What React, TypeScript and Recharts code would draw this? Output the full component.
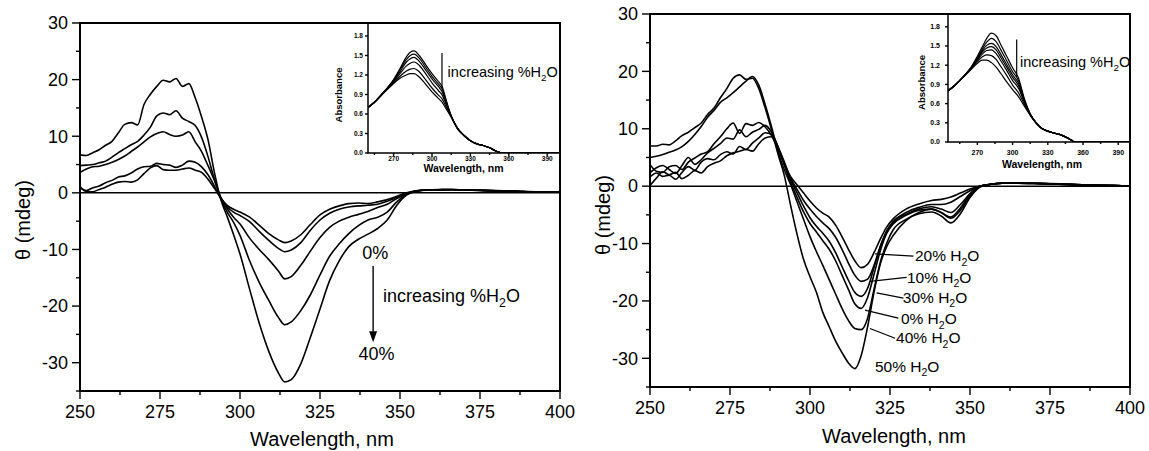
import React from "react";
import {
  LineChart,
  Line,
  XAxis,
  YAxis,
  ReferenceLine,
  ReferenceArea,
  ReferenceDot,
} from "recharts";

const FONT = '"Liberation Sans", Arial, Helvetica, sans-serif';

// ---- left panel: CD spectra, 0-40 % H2O ----
const nmLeft = [
  250, 252, 254, 256, 258, 260, 262, 264, 266, 268, 270, 272, 274, 276, 278, 280, 282, 284, 286, 288, 290, 292, 294,
  296, 298, 300, 303, 306, 309, 312, 314, 316, 319, 322, 325, 328, 331, 334, 337, 340, 343, 346, 349, 352, 355, 358,
  362, 366, 370, 375, 380, 385, 390, 395, 400,
];
const cd40 = [
  6.7, 6.6, 7.1, 7.6, 8.4, 9.1, 10.6, 12.1, 12.4, 12.0, 15.6, 17.4, 18.8, 19.9, 19.6, 20.2, 18.8, 19.3, 16.8, 13.4, 9.4,
  3.6, -1.2, -4.2, -7.4, -10.8, -17.0, -23.0, -28.0, -31.8, -33.4, -33.0, -30.2, -25.5, -20.5, -15.5, -12.0, -9.5,
  -8.2, -7.3, -6.3, -4.8, -2.2, -0.4, 0.3, 0.5, 0.6, 0.6, 0.5, 0.45, 0.35, 0.3, 0.2, 0.15, 0.1,
];
const cd30 = [
  4.8, 4.9, 5.0, 5.3, 5.6, 6.3, 7.1, 7.8, 8.5, 9.1, 10.2, 11.6, 13.6, 14.1, 13.8, 14.5, 13.2, 12.6, 11.9, 9.8, 6.4,
  2.4, -1.0, -3.4, -5.2, -7.5, -12.0, -15.8, -19.0, -22.0, -23.3, -22.8, -20.8, -18.0, -14.5, -11.2, -9.0, -7.2,
  -5.8, -4.8, -4.3, -3.4, -1.6, -0.3, 0.3, 0.5, 0.55, 0.6, 0.5, 0.45, 0.35, 0.3, 0.2, 0.15, 0.1,
];
const cd20 = [
  3.6, 4.2, 4.6, 4.7, 5.0, 5.4, 5.9, 6.5, 7.3, 8.1, 9.0, 9.9, 10.5, 10.8, 10.3, 10.0, 10.2, 10.8, 9.0, 7.3, 4.8, 2.2,
  -0.8, -2.8, -4.3, -5.5, -8.0, -10.0, -11.8, -13.8, -15.2, -14.8, -12.8, -10.3, -7.9, -6.1, -5.0, -4.3, -3.8, -3.3,
  -2.6, -2.0, -1.0, -0.2, 0.3, 0.5, 0.5, 0.55, 0.5, 0.4, 0.35, 0.3, 0.2, 0.12, 0.1,
];
const cd10 = [
  0.9, 0.4, 0.9, 1.2, 1.8, 2.2, 2.8, 3.0, 3.5, 4.2, 4.6, 4.7, 5.2, 5.0, 4.9, 4.5, 4.9, 5.6, 5.4, 4.6, 3.2, 1.2, -1.0,
  -2.5, -3.4, -4.0, -5.1, -6.8, -8.4, -9.8, -10.4, -10.1, -8.8, -6.6, -4.8, -3.6, -2.9, -2.5, -2.3, -2.2, -2.0, -1.5,
  -0.8, -0.1, 0.3, 0.45, 0.5, 0.55, 0.5, 0.45, 0.4, 0.3, 0.25, 0.15, 0.1,
];
const cd0 = [
  1.1, 0.2, 0.2, 0.6, 1.0, 1.5, 1.9, 2.0, 1.9, 2.3, 3.4, 4.4, 4.8, 4.1, 4.0, 4.0, 4.2, 4.4, 4.0, 3.6, 2.4, 0.8, -0.9,
  -2.2, -2.9, -3.4, -4.3, -5.7, -7.2, -8.3, -8.8, -8.5, -7.4, -5.6, -3.9, -2.9, -2.3, -1.9, -1.8, -1.9, -1.6, -1.2,
  -0.6, 0.0, 0.35, 0.5, 0.55, 0.6, 0.5, 0.45, 0.35, 0.3, 0.2, 0.15, 0.1,
];

// ---- right panel: CD spectra, 0-50 % H2O ----
const nmRight = [
  250, 252, 254, 256, 258, 260, 262, 264, 266, 268, 270, 272, 274, 276, 278, 280, 282, 284, 286, 288, 290, 292, 294,
  296, 298, 300, 302, 304, 306, 308, 310, 312, 314, 316, 318, 320, 322, 324, 326, 330, 334, 338, 341, 344, 347, 350,
  353, 356, 360, 365, 370, 375, 380, 385, 390, 395, 400,
];
const cdR50 = [
  7.0, 7.0, 7.3, 7.2, 7.9, 8.8, 9.4, 10.2, 11.0, 12.5, 13.6, 15.4, 17.0, 18.8, 19.4, 18.6, 18.8, 17.0, 13.6, 9.8, 5.6,
  1.8, -3.5, -8.5, -12.8, -15.8, -18.5, -22.0, -24.5, -27.0, -29.0, -30.8, -31.8, -29.5, -24.5, -18.5, -13.5, -10.5,
  -8.6, -6.0, -4.6, -4.0, -4.6, -5.6, -4.2, -1.8, -0.1, 0.3, 0.5, 0.5, 0.45, 0.4, 0.3, 0.2, 0.15, 0.1, 0.05,
];
const cdR40 = [
  5.0, 5.2, 5.5, 5.9, 6.3, 6.9, 7.8, 9.0, 10.4, 12.0, 13.2, 14.6, 15.4, 16.3, 17.3, 18.3, 19.1, 17.6, 14.2, 10.3, 6.0,
  2.8, 0.2, -2.8, -5.8, -8.8, -11.4, -13.8, -16.3, -18.8, -21.3, -23.4, -24.8, -25.0, -23.0, -18.0, -13.2, -9.9, -7.6,
  -5.8, -4.8, -4.5, -5.2, -6.4, -4.8, -2.0, -0.2, 0.3, 0.5, 0.55, 0.5, 0.4, 0.3, 0.25, 0.15, 0.1, 0.05,
];
const cdR30 = [
  1.6, 2.3, 1.7, 1.9, 1.2, 2.4, 3.4, 2.8, 4.2, 4.8, 4.6, 5.5, 6.0, 5.6, 6.9, 6.4, 7.5, 8.4, 9.3, 9.0, 6.8, 3.8, 1.0,
  -1.2, -3.5, -5.5, -7.0, -8.2, -9.6, -11.6, -14.0, -16.4, -18.5, -19.2, -17.8, -14.2, -10.6, -7.8, -6.2, -4.9, -4.0,
  -3.6, -4.0, -4.6, -3.2, -1.3, 0.0, 0.3, 0.5, 0.5, 0.45, 0.4, 0.3, 0.25, 0.15, 0.1, 0.05,
];
const cdR20 = [
  3.8, 2.6, 2.4, 3.4, 3.6, 2.9, 4.2, 4.9, 5.6, 6.0, 7.4, 8.6, 10.0, 11.0, 9.2, 10.9, 10.6, 11.1, 10.3, 8.8, 6.4, 3.8,
  1.6, 0.2, -1.2, -2.6, -3.8, -4.7, -5.4, -6.8, -8.8, -11.0, -13.0, -14.2, -13.6, -11.6, -9.2, -7.1, -5.7, -4.0, -3.1,
  -2.5, -2.3, -1.9, -1.2, -0.5, 0.0, 0.3, 0.5, 0.5, 0.45, 0.4, 0.3, 0.2, 0.15, 0.1, 0.05,
];
const cdR10 = [
  2.3, 3.2, 3.6, 2.9, 2.2, 3.6, 5.0, 3.8, 4.6, 5.8, 6.6, 7.4, 8.4, 8.2, 9.8, 8.6, 9.4, 9.9, 10.6, 9.4, 6.9, 4.2, 1.3,
  -0.6, -2.5, -4.0, -5.3, -6.4, -7.4, -8.9, -11.0, -13.4, -15.5, -16.6, -16.2, -13.8, -10.4, -7.8, -6.2, -4.6, -3.7,
  -3.2, -3.2, -2.8, -1.8, -0.8, 0.0, 0.3, 0.5, 0.55, 0.5, 0.4, 0.35, 0.25, 0.15, 0.1, 0.05,
];
const cdR0 = [
  0.1, 1.4, 2.5, 2.0, 2.4, 1.3, 1.9, 2.7, 2.3, 3.4, 4.0, 4.4, 5.3, 5.8, 6.1, 6.4, 6.1, 7.4, 8.4, 8.6, 6.6, 3.7, 0.6,
  -2.0, -4.5, -6.5, -8.0, -9.5, -11.0, -13.0, -15.5, -18.0, -20.5, -21.3, -19.4, -15.4, -11.2, -8.2, -6.6, -5.1, -4.2,
  -4.0, -4.6, -5.4, -3.8, -1.5, 0.0, 0.3, 0.5, 0.55, 0.5, 0.45, 0.35, 0.25, 0.15, 0.1, 0.05,
];

// ---- insets: absorbance ----
const nmInsetL = [
  250, 255, 260, 265, 270, 275, 280, 283, 286, 290, 295, 300, 305, 308, 311, 315, 320, 325, 330, 335, 340, 345, 350,
  355, 360, 380, 400,
];
const absL = [
  [0.7, 0.78, 0.89, 1.0, 1.13, 1.3, 1.48, 1.55, 1.57, 1.5, 1.36, 1.22, 1.1, 1.02, 0.82, 0.57, 0.38, 0.27, 0.19, 0.14, 0.115, 0.08, 0.03, 0, 0, 0, 0],
  [0.7, 0.78, 0.89, 0.995, 1.12, 1.28, 1.44, 1.5, 1.52, 1.46, 1.32, 1.18, 1.06, 0.98, 0.8, 0.57, 0.38, 0.27, 0.19, 0.14, 0.115, 0.08, 0.03, 0, 0, 0, 0],
  [0.7, 0.78, 0.88, 0.99, 1.11, 1.25, 1.4, 1.45, 1.47, 1.41, 1.28, 1.14, 1.02, 0.94, 0.78, 0.57, 0.38, 0.27, 0.19, 0.14, 0.115, 0.08, 0.03, 0, 0, 0, 0],
  [0.7, 0.78, 0.88, 0.985, 1.1, 1.22, 1.34, 1.38, 1.4, 1.35, 1.22, 1.08, 0.96, 0.89, 0.75, 0.56, 0.38, 0.27, 0.19, 0.14, 0.115, 0.08, 0.03, 0, 0, 0, 0],
  [0.7, 0.78, 0.88, 0.98, 1.08, 1.18, 1.26, 1.29, 1.3, 1.25, 1.13, 1.0, 0.89, 0.83, 0.71, 0.56, 0.37, 0.27, 0.19, 0.14, 0.115, 0.08, 0.03, 0, 0, 0, 0],
  [0.7, 0.78, 0.88, 0.975, 1.07, 1.15, 1.2, 1.22, 1.22, 1.17, 1.06, 0.94, 0.84, 0.78, 0.68, 0.55, 0.37, 0.27, 0.19, 0.14, 0.115, 0.08, 0.03, 0, 0, 0, 0],
];
const nmInsetR = [
  245, 250, 255, 260, 265, 270, 274, 278, 282, 286, 290, 295, 300, 305, 310, 315, 320, 325, 330, 335, 340, 345, 350,
  353, 360, 380, 400,
];
const absR = [
  [0.8, 0.87, 0.96, 1.06, 1.18, 1.34, 1.48, 1.62, 1.7, 1.66, 1.52, 1.34, 1.16, 1.0, 0.68, 0.44, 0.3, 0.21, 0.17, 0.14, 0.12, 0.08, 0.03, 0, 0, 0, 0],
  [0.8, 0.87, 0.96, 1.06, 1.17, 1.32, 1.45, 1.56, 1.62, 1.57, 1.44, 1.27, 1.1, 0.96, 0.66, 0.44, 0.3, 0.21, 0.17, 0.14, 0.12, 0.08, 0.03, 0, 0, 0, 0],
  [0.8, 0.87, 0.96, 1.06, 1.17, 1.3, 1.42, 1.51, 1.54, 1.49, 1.37, 1.21, 1.05, 0.92, 0.65, 0.43, 0.3, 0.21, 0.17, 0.14, 0.12, 0.08, 0.03, 0, 0, 0, 0],
  [0.8, 0.87, 0.96, 1.06, 1.16, 1.29, 1.4, 1.47, 1.49, 1.44, 1.32, 1.17, 1.01, 0.88, 0.63, 0.43, 0.3, 0.21, 0.17, 0.14, 0.12, 0.08, 0.03, 0, 0, 0, 0],
  [0.8, 0.87, 0.96, 1.05, 1.16, 1.28, 1.37, 1.43, 1.44, 1.38, 1.27, 1.12, 0.96, 0.84, 0.62, 0.43, 0.3, 0.21, 0.17, 0.14, 0.12, 0.08, 0.03, 0, 0, 0, 0],
  [0.8, 0.87, 0.96, 1.05, 1.15, 1.26, 1.33, 1.36, 1.35, 1.29, 1.18, 1.04, 0.89, 0.77, 0.59, 0.42, 0.3, 0.21, 0.17, 0.14, 0.12, 0.08, 0.03, 0, 0, 0, 0],
  [0.8, 0.87, 0.96, 1.05, 1.14, 1.23, 1.28, 1.28, 1.24, 1.17, 1.07, 0.94, 0.82, 0.71, 0.56, 0.42, 0.3, 0.21, 0.17, 0.14, 0.12, 0.08, 0.03, 0, 0, 0, 0],
];

// ---- ticks ----
const mainXTicks = [250, 262.5, 275, 287.5, 300, 312.5, 325, 337.5, 350, 362.5, 375, 387.5, 400];
const mainXLabels = [250, 275, 300, 325, 350, 375, 400];
const mainYTicks = [-35, -30, -25, -20, -15, -10, -5, 0, 5, 10, 15, 20, 25, 30];
const mainYLabels = [-30, -20, -10, 0, 10, 20, 30];
const insetXTicks = [255, 270, 285, 300, 315, 330, 345, 360, 375, 390];
const insetXLabels = [270, 300, 330, 360, 390];
const insetYTicks = [0, 0.3, 0.6, 0.9, 1.2, 1.5, 1.8];

const leftRows = nmLeft.map((nm, i) => ({ nm, c0: cd0[i], c10: cd10[i], c20: cd20[i], c30: cd30[i], c40: cd40[i] }));
const rightRows = nmRight.map((nm, i) => ({
  nm, c0: cdR0[i], c10: cdR10[i], c20: cdR20[i], c30: cdR30[i], c40: cdR40[i], c50: cdR50[i],
}));
const insetLRows = nmInsetL.map((nm, i) => {
  const r: Record<string, number> = { nm };
  absL.forEach((s, k) => (r["a" + k] = s[i]));
  return r;
});
const insetRRows = nmInsetR.map((nm, i) => {
  const r: Record<string, number> = { nm };
  absR.forEach((s, k) => (r["a" + k] = s[i]));
  return r;
});

function xTick(labels: number[], big: number, small: number, size: number, gap: number, bold = false) {
  return (p: any) => {
    const v = p.payload.value;
    const major = labels.includes(v);
    return (
      <g>
        <line x1={p.x} x2={p.x} y1={p.y} y2={p.y + (major ? big : small)} stroke="#000" strokeWidth={1.4} />
        {major && (
          <text x={p.x} y={p.y + gap} textAnchor="middle" fontSize={size} fontFamily={FONT}
            fontWeight={bold ? "bold" : "normal"} fill="#000">
            {v}
          </text>
        )}
      </g>
    );
  };
}

function yTick(labels: number[] | null, big: number, small: number, size: number, gap: number, fmt: (v: number) => string, bold = false) {
  return (p: any) => {
    const v = p.payload.value;
    const major = labels ? labels.includes(v) : true;
    return (
      <g>
        <line x1={p.x} x2={p.x - (major ? big : small)} y1={p.y} y2={p.y} stroke="#000" strokeWidth={1.4} />
        {major && (
          <text x={p.x - gap} y={p.y} dy="0.35em" textAnchor="end" fontSize={size} fontFamily={FONT}
            fontWeight={bold ? "bold" : "normal"} fill="#000">
            {fmt(v)}
          </text>
        )}
      </g>
    );
  };
}

type NoteProps = { cx?: number; cy?: number; text: string; sub?: string; tail?: string; size: number };
function Note({ cx = 0, cy = 0, text, sub, tail, size }: NoteProps) {
  return (
    <text x={cx} y={cy} fontSize={size} fontFamily={FONT} fill="#000">
      {text}
      {sub && (
        <tspan dy={size * 0.3} fontSize={size * 0.68}>
          {sub}
        </tspan>
      )}
      {tail && (
        <tspan dy={-size * 0.3} fontSize={size}>
          {tail}
        </tspan>
      )}
    </text>
  );
}

const note = (text: string, size: number, sub?: string, tail?: string) => (p: any) =>
  <Note cx={p.cx} cy={p.cy} text={text} sub={sub} tail={tail} size={size} />;

const arrowHead = (p: any) => (
  <path d={`M${p.cx - 4},${p.cy - 11} L${p.cx + 4},${p.cy - 11} L${p.cx},${p.cy} Z`} fill="#000" />
);

const curve = (key: string) => (
  <Line key={key} dataKey={key} type="monotone" stroke="#000" strokeWidth={1.6} dot={false} isAnimationActive={false} />
);

const insetCurve = (key: string) => (
  <Line key={key} dataKey={key} type="monotone" stroke="#000" strokeWidth={1.2} dot={false} isAnimationActive={false} />
);

const titleStyle = { fontFamily: FONT, fontSize: 20, fill: "#000" };
const insetTitle = { fontFamily: FONT, fontSize: 10.5, fontWeight: "bold" as const, fill: "#000" };

export default function App() {
  return (
    <div style={{ position: "absolute", left: 0, top: 0, width: 1149, height: 451, background: "#fff" }}>
      {/* left main */}
      <div style={{ position: "absolute", left: 0, top: 0 }}>
        <LineChart width={575} height={451} data={leftRows} margin={{ top: 23, right: 15, bottom: 0, left: 0 }}>
          <XAxis dataKey="nm" type="number" domain={[250, 400]} ticks={mainXTicks} interval={0} height={60}
            axisLine={false} tickLine={false} tickSize={0} tickMargin={0} allowDataOverflow
            tick={xTick(mainXLabels, 8, 4, 18, 27)} />
          <YAxis type="number" domain={[-35, 30]} ticks={mainYTicks} interval={0} width={80}
            axisLine={false} tickLine={false} tickSize={0} tickMargin={0} allowDataOverflow
            tick={yTick(mainYLabels, 8, 4, 18, 12, (v) => String(v))} />
          <ReferenceArea x1={250} x2={400} y1={-35} y2={30} fill="none" fillOpacity={0} stroke="#000" strokeWidth={2} />
          <ReferenceLine y={0} stroke="#000" strokeWidth={1.5} />
          {["c0", "c10", "c20", "c30", "c40"].map(curve)}
          <ReferenceDot x={338.2} y={-11.6} r={0} shape={note("0%", 18)} />
          <ReferenceLine segment={[{ x: 341.6, y: -12.9 }, { x: 341.6, y: -24.5 }]} stroke="#000" strokeWidth={1.4} />
          <ReferenceDot x={341.6} y={-26.4} r={0} shape={arrowHead} />
          <ReferenceDot x={344.7} y={-19.2} r={0} shape={note("increasing %H", 18, "2", "O")} />
          <ReferenceDot x={337.0} y={-29.5} r={0} shape={note("40%", 18)} />
          <text x={23} y={220} transform="rotate(-90 23 220)" textAnchor="middle" dominantBaseline="central" {...titleStyle}>
            θ (mdeg)
          </text>
          <text x={322} y={446} textAnchor="middle" {...titleStyle}>
            Wavelength, nm
          </text>
        </LineChart>
      </div>

      {/* left inset */}
      <div style={{ position: "absolute", left: 320, top: 0 }}>
        <LineChart width={250} height={180} data={insetLRows} margin={{ top: 23, right: 10, bottom: 0, left: 0 }}>
          <XAxis dataKey="nm" type="number" domain={[250, 400]} ticks={insetXTicks} interval={0} height={27}
            axisLine={false} tickLine={false} tickSize={0} tickMargin={0} allowDataOverflow
            tick={xTick(insetXLabels, 3, 2, 6.5, 8, true)} />
          <YAxis type="number" domain={[0, 2]} ticks={insetYTicks} interval={0} width={48}
            axisLine={false} tickLine={false} tickSize={0} tickMargin={0} allowDataOverflow
            tick={yTick(null, 3, 2, 6.5, 5, (v) => v.toFixed(1), true)} />
          <ReferenceArea x1={250} x2={400} y1={0} y2={2} fill="none" fillOpacity={0} stroke="#000" strokeWidth={1.5} />
          {absL.map((_, k) => insetCurve("a" + k))}
          <ReferenceLine segment={[{ x: 307.8, y: 1.54 }, { x: 307.8, y: 1.0 }]} stroke="#000" strokeWidth={1.2} />
          <ReferenceDot x={312.2} y={1.17} r={0} shape={note("increasing %H", 14.5, "2", "O")} />
          <text x={18} y={95} transform="rotate(-90 18 95)" textAnchor="middle" dominantBaseline="central" {...insetTitle} fontSize={9.5}>
            Absorbance
          </text>
          <text x={143.5} y={172} textAnchor="middle" {...insetTitle}>
            Wavelength, nm
          </text>
        </LineChart>
      </div>

      {/* right main */}
      <div style={{ position: "absolute", left: 575, top: 0 }}>
        <LineChart width={574} height={451} data={rightRows} margin={{ top: 14, right: 19, bottom: 0, left: 0 }}>
          <XAxis dataKey="nm" type="number" domain={[250, 400]} ticks={mainXTicks} interval={0} height={64}
            axisLine={false} tickLine={false} tickSize={0} tickMargin={0} allowDataOverflow
            tick={xTick(mainXLabels, 8, 4, 18, 27)} />
          <YAxis type="number" domain={[-35, 30]} ticks={mainYTicks} interval={0} width={75}
            axisLine={false} tickLine={false} tickSize={0} tickMargin={0} allowDataOverflow
            tick={yTick(mainYLabels, 8, 4, 18, 12, (v) => String(v))} />
          <ReferenceArea x1={250} x2={400} y1={-35} y2={30} fill="none" fillOpacity={0} stroke="#000" strokeWidth={2} />
          <ReferenceLine y={0} stroke="#000" strokeWidth={1.5} />
          {["c0", "c10", "c20", "c30", "c40", "c50"].map(curve)}
          <ReferenceLine segment={[{ x: 320.3, y: -11.8 }, { x: 332.3, y: -12.2 }]} stroke="#000" strokeWidth={1.2} />
          <ReferenceLine segment={[{ x: 318.75, y: -16.6 }, { x: 330.2, y: -15.9 }]} stroke="#000" strokeWidth={1.2} />
          <ReferenceLine segment={[{ x: 320.8, y: -18.6 }, { x: 329.2, y: -19.5 }]} stroke="#000" strokeWidth={1.2} />
          <ReferenceLine segment={[{ x: 317.2, y: -21.6 }, { x: 327.6, y: -23.0 }]} stroke="#000" strokeWidth={1.2} />
          <ReferenceLine segment={[{ x: 318.75, y: -24.8 }, { x: 326.6, y: -26.5 }]} stroke="#000" strokeWidth={1.2} />
          <ReferenceDot x={332.8} y={-13.1} r={0} shape={note("20% H", 15.5, "2", "O")} />
          <ReferenceDot x={330.3} y={-16.8} r={0} shape={note("10% H", 15.5, "2", "O")} />
          <ReferenceDot x={329.0} y={-20.3} r={0} shape={note("30% H", 15.5, "2", "O")} />
          <ReferenceDot x={328.4} y={-24.0} r={0} shape={note("0% H", 15.5, "2", "O")} />
          <ReferenceDot x={326.9} y={-27.4} r={0} shape={note("40% H", 15.5, "2", "O")} />
          <ReferenceDot x={320.3} y={-32.3} r={0} shape={note("50% H", 15.5, "2", "O")} />
          <text x={28} y={215} transform="rotate(-90 28 215)" textAnchor="middle" dominantBaseline="central" {...titleStyle}>
            θ (mdeg)
          </text>
          <text x={319} y={443} textAnchor="middle" {...titleStyle}>
            Wavelength, nm
          </text>
        </LineChart>
      </div>

      {/* right inset */}
      <div style={{ position: "absolute", left: 900, top: 0 }}>
        <LineChart width={240} height={175} data={insetRRows} margin={{ top: 14, right: 10, bottom: 0, left: 0 }}>
          <XAxis dataKey="nm" type="number" domain={[245, 400]} ticks={insetXTicks} interval={0} height={33}
            axisLine={false} tickLine={false} tickSize={0} tickMargin={0} allowDataOverflow
            tick={xTick(insetXLabels, 3, 2, 7, 13, true)} />
          <YAxis type="number" domain={[0, 2]} ticks={insetYTicks} interval={0} width={48}
            axisLine={false} tickLine={false} tickSize={0} tickMargin={0} allowDataOverflow
            tick={yTick(null, 3, 2, 7, 8, (v) => v.toFixed(1), true)} />
          <ReferenceArea x1={245} x2={400} y1={0} y2={2} fill="none" fillOpacity={0} stroke="#000" strokeWidth={1.5} />
          {absR.map((_, k) => insetCurve("a" + k))}
          <ReferenceLine segment={[{ x: 303.5, y: 1.6 }, { x: 303.5, y: 1.02 }]} stroke="#000" strokeWidth={1.2} />
          <ReferenceDot x={306.3} y={1.17} r={0} shape={note("increasing %H", 14.5, "2", "O")} />
          <text x={21.7} y={82.5} transform="rotate(-90 21.7 82.5)" textAnchor="middle" dominantBaseline="central" {...insetTitle} fontSize={9.5}>
            Absorbance
          </text>
          <text x={142} y={168} textAnchor="middle" {...insetTitle}>
            Wavelength, nm
          </text>
        </LineChart>
      </div>
    </div>
  );
}
